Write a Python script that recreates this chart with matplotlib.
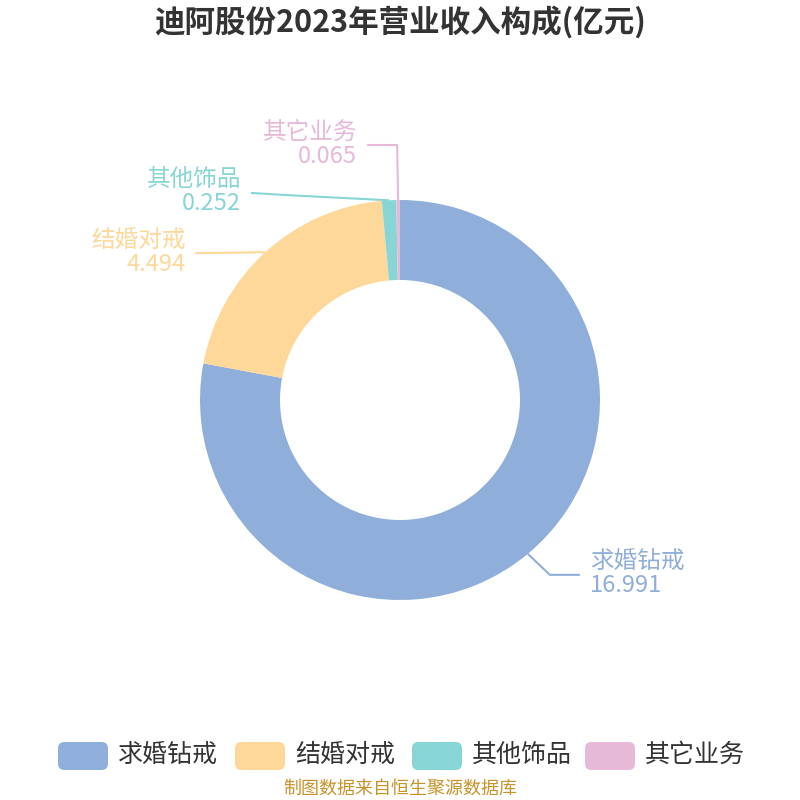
import numpy as np
import matplotlib.pyplot as plt
from matplotlib.patches import FancyBboxPatch

plt.rcParams['font.family'] = ['Noto Sans CJK SC', 'DejaVu Sans']

title = '迪阿股份2023年营业收入构成(亿元)'
categories = ['求婚钻戒', '结婚对戒', '其他饰品', '其它业务']
values = [16.991, 4.494, 0.252, 0.065]
value_labels = ['16.991', '4.494', '0.252', '0.065']
colors = ['#8faed9', '#fed898', '#87d5d5', '#e7b9d8']
source = '制图数据来自恒生聚源数据库'

# leader line layout per slice: elbow (dx, dy), end (dx, dy) relative to anchor
leaders = [
    [(0.11, -0.105), (0.26, -0.105)],
    [(-0.35, -0.005), (-0.35, -0.005)],
    [(-0.53, 0.027), (-0.69, 0.037)],
    [(-0.005, 0.275), (-0.155, 0.275)],
]

fig = plt.figure(figsize=(8, 8), dpi=100)
ax = fig.add_axes([0, 0, 1, 1])
ax.axis('off')

wedges, _ = ax.pie(values, colors=colors, startangle=90, counterclock=False,
                   radius=1, wedgeprops=dict(width=0.4, linewidth=0))
ax.set_xlim(-2, 2)
ax.set_ylim(-2, 2)
ax.set_aspect('equal')

for i, w in enumerate(wedges):
    mid = np.deg2rad((w.theta1 + w.theta2) / 2)
    x0, y0 = np.cos(mid), np.sin(mid)
    (ex, ey), (fx, fy) = leaders[i]
    xs = [x0, x0 + ex, x0 + fx]
    ys = [y0, y0 + ey, y0 + fy]
    ax.plot(xs, ys, color=colors[i], lw=1.5, solid_capstyle='butt')
    right = fx > 0
    tx = x0 + fx + (0.05 if right else -0.05)
    ty = y0 + fy
    ha = 'left' if right else 'right'
    ax.text(tx, ty + 0.065, categories[i], ha=ha, va='center', fontsize=17, color=colors[i])
    ax.text(tx, ty - 0.055, value_labels[i], ha=ha, va='center', fontsize=17, color=colors[i])

fig.text(0.5, 0.972, title, ha='center', va='center', fontsize=22, fontweight='bold', color='#333333')

# legend
legend_x = [58, 235, 412, 585]
for i, c in enumerate(categories):
    x = legend_x[i] / 800
    box = FancyBboxPatch((x, 1 - 770 / 800), 50 / 800, 28 / 800,
                         boxstyle='round,pad=0,rounding_size=0.008',
                         transform=fig.transFigure, facecolor=colors[i], edgecolor='none')
    fig.patches.append(box)
    fig.text(x + 60 / 800, 1 - 755 / 800, c, ha='left', va='center', fontsize=18, color='#333333')

fig.text(0.5, 1 - 789 / 800, source, ha='center', va='center', fontsize=13, color='#c8922a')

plt.savefig('out.png', dpi=100)
